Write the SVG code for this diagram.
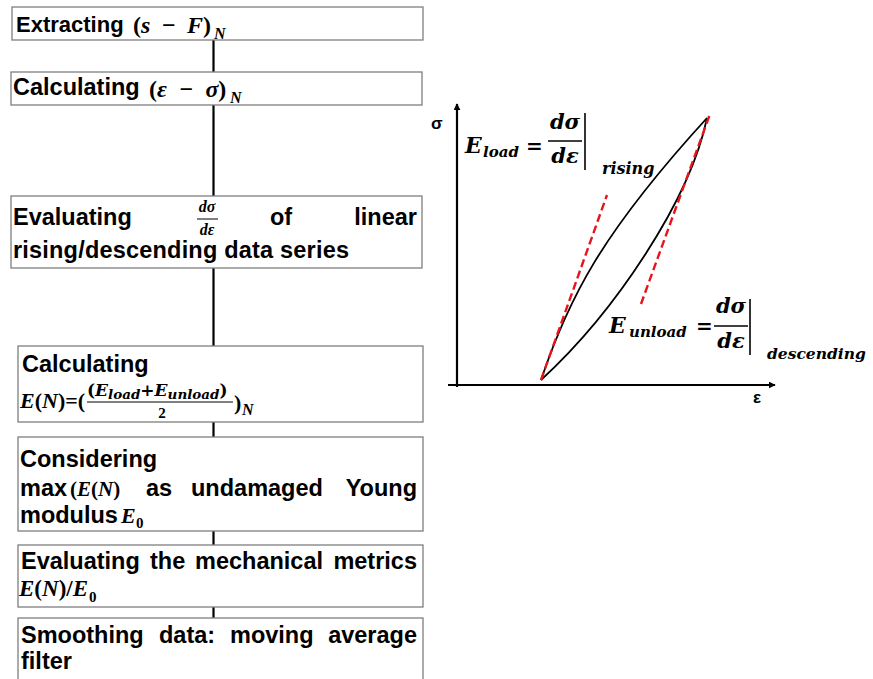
<svg xmlns="http://www.w3.org/2000/svg" width="873" height="679" viewBox="0 0 873 679">
<defs>
<style>
.box{fill:#fff;stroke:#7f7f7f;stroke-width:1.3}
.t{font-family:"Liberation Sans",Arial,sans-serif;font-weight:bold;font-size:23.5px;fill:#000}
.m{font-family:"Liberation Serif","Times New Roman",serif;font-weight:bold;font-style:italic;fill:#000}
.mu{font-family:"Liberation Serif","Times New Roman",serif;font-weight:bold;font-style:normal;fill:#000}
.d{font-family:"DejaVu Serif",serif;font-weight:bold;font-style:italic;fill:#000}
.du{font-family:"DejaVu Serif",serif;font-weight:bold;font-style:normal;fill:#000}
.conn{stroke:#000;stroke-width:2.2;fill:none}
.axis{stroke:#000;stroke-width:2.2;fill:none}
.curve{stroke:#000;stroke-width:1.8;fill:none}
.red{stroke:#e8141b;stroke-width:2.4;fill:none;stroke-dasharray:8 4}
.ax{font-family:"Liberation Sans",Arial,sans-serif;font-weight:bold;font-size:17px;fill:#000}
</style>
<marker id="arr" viewBox="0 0 10 10" refX="9" refY="5" markerWidth="7" markerHeight="7" markerUnits="userSpaceOnUse" orient="auto">
<path d="M0,0 L10,5 L0,10 z" fill="#000"/>
</marker>
</defs>
<rect width="873" height="679" fill="#fff"/>

<g id="connectors">
<line class="conn" x1="213.5" y1="40" x2="213.5" y2="72"/>
<line class="conn" x1="213.5" y1="105" x2="213.5" y2="196"/>
<line class="conn" x1="213.5" y1="268" x2="213.5" y2="346"/>
<line class="conn" x1="213.5" y1="422" x2="213.5" y2="437"/>
<line class="conn" x1="213.5" y1="531" x2="213.5" y2="545"/>
<line class="conn" x1="213.5" y1="607" x2="213.5" y2="618"/>
</g>

<g id="n1">
<rect class="box" x="12" y="7" width="411" height="33"/>
<text class="t" x="16" y="32" style="font-size:22px">Extracting</text>
<text class="m" x="133" y="33" font-size="24" word-spacing="5"><tspan class="mu">(</tspan>s − F<tspan class="mu">)</tspan></text>
<text class="m" x="214" y="39" font-size="16">N</text>
</g>

<g id="n2">
<rect class="box" x="11" y="72" width="411" height="33"/>
<text class="t" x="13" y="95">Calculating</text>
<text class="m" x="149" y="97" font-size="24" word-spacing="6"><tspan class="mu">(</tspan>ε − σ<tspan class="mu">)</tspan></text>
<text class="m" x="230" y="103" font-size="16">N</text>
</g>

<g id="n3">
<rect class="box" x="11" y="196" width="411" height="72"/>
<text class="t" x="13" y="225">Evaluating</text>
<text class="m" x="207" y="212" font-size="16" text-anchor="middle">dσ</text>
<line x1="197" y1="219" x2="218" y2="219" stroke="#000" stroke-width="1"/>
<text class="m" x="207" y="235" font-size="16" text-anchor="middle">dε</text>
<text class="t" x="270" y="225">of</text>
<text class="t" x="417" y="225" text-anchor="end">linear</text>
<text class="t" x="13" y="258" textLength="336">rising/descending data series</text>
</g>

<g id="n4">
<rect class="box" x="18" y="346" width="405" height="76"/>
<text class="t" x="22" y="372">Calculating</text>
<text class="m" x="20" y="408" font-size="22">E<tspan class="mu">(</tspan>N<tspan class="mu">)=(</tspan></text>
<text class="d" x="87" y="396" font-size="17"><tspan class="du">(</tspan>E<tspan font-size="13.5" dy="3">load</tspan><tspan class="du" dy="-3">+</tspan>E<tspan font-size="13.5" dy="3">unload</tspan><tspan class="du" dy="-3">)</tspan></text>
<line x1="87" y1="402" x2="233" y2="402" stroke="#000" stroke-width="1"/>
<text class="mu" x="162" y="418" font-size="15" text-anchor="middle">2</text>
<text class="mu" x="234" y="410" font-size="22">)</text>
<text class="m" x="242" y="415" font-size="16">N</text>
</g>

<g id="n5">
<rect class="box" x="18" y="437" width="405" height="94"/>
<text class="t" x="20" y="467">Considering</text>
<text class="t" x="20" y="496">max</text>
<text class="m" x="70" y="496" font-size="21"><tspan class="mu">(</tspan>E<tspan class="mu">(</tspan>N<tspan class="mu">)</tspan></text>
<text class="t" x="146" y="496">as</text>
<text class="t" x="191" y="496">undamaged</text>
<text class="t" x="417" y="496" text-anchor="end">Young</text>
<text class="t" x="20" y="523">modulus</text>
<text class="m" x="121" y="523" font-size="22">E</text>
<text class="mu" x="136" y="528" font-size="15">0</text>
</g>

<g id="n6">
<rect class="box" x="18" y="545" width="405" height="62"/>
<text class="t" x="21" y="569">Evaluating</text>
<text class="t" x="150" y="569">the</text>
<text class="t" x="195" y="569">mechanical</text>
<text class="t" x="417" y="569" text-anchor="end">metrics</text>
<text class="m" x="19" y="596" font-size="23">E<tspan class="mu">(</tspan>N<tspan class="mu">)/</tspan>E</text>
<text class="mu" x="89" y="602" font-size="15">0</text>
</g>

<g id="n7">
<rect class="box" x="18" y="618" width="405" height="80"/>
<text class="t" x="21" y="643">Smoothing</text>
<text class="t" x="159" y="643">data:</text>
<text class="t" x="230" y="643">moving</text>
<text class="t" x="417" y="643" text-anchor="end">average</text>
<text class="t" x="21" y="669">filter</text>
</g>

<g id="chart">
<line class="axis" x1="457" y1="387" x2="457" y2="104" marker-end="url(#arr)"/>
<line class="axis" x1="448" y1="385" x2="775" y2="385" marker-end="url(#arr)"/>
<text class="ax" x="431" y="129">σ</text>
<text class="ax" x="753" y="403">ε</text>
<path class="curve" d="M541,380 C568,300 600,235 707,118"/>
<path class="curve" d="M541,380 C615,312 690,200 707,118"/>
<line class="red" x1="541" y1="380" x2="607" y2="195"/>
<line class="red" x1="641" y1="304" x2="710" y2="114"/>

<text class="d" x="465" y="153" font-size="22">E</text>
<text class="d" x="483" y="157" font-size="15">load</text>
<text class="du" x="526" y="153" font-size="20">=</text>
<text class="d" x="565" y="129" font-size="21" text-anchor="middle">dσ</text>
<line x1="548" y1="141" x2="582" y2="141" stroke="#000" stroke-width="1.3"/>
<text class="d" x="565" y="163" font-size="21" text-anchor="middle">dε</text>
<line x1="585" y1="113" x2="585" y2="170" stroke="#000" stroke-width="1.6"/>
<text class="d" x="602" y="174" font-size="16">rising</text>

<text class="d" x="609" y="333" font-size="22">E</text>
<text class="d" x="629" y="337" font-size="15">unload</text>
<text class="du" x="696" y="333" font-size="20">=</text>
<text class="d" x="731" y="313" font-size="21" text-anchor="middle">dσ</text>
<line x1="714" y1="326" x2="748" y2="326" stroke="#000" stroke-width="1.3"/>
<text class="d" x="731" y="348" font-size="21" text-anchor="middle">dε</text>
<line x1="750" y1="299" x2="750" y2="355" stroke="#000" stroke-width="1.6"/>
<text class="d" x="767" y="359" font-size="15.5">descending</text>
</g>
</svg>
